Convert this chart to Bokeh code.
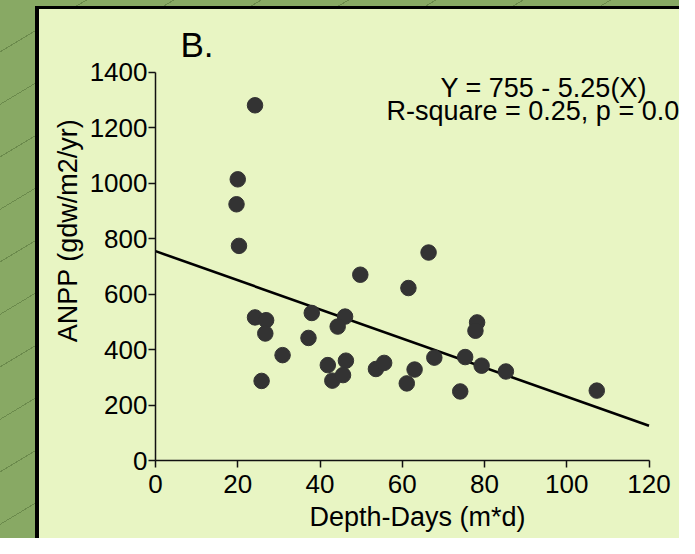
from bokeh.plotting import figure
from bokeh.models import Range1d, Label
from bokeh.embed import file_html
from bokeh.resources import INLINE

# ---- data ----
depth_days = [24.2, 20.0, 19.7, 20.3, 49.8, 61.5, 66.4, 24.2, 26.9, 26.7, 30.9, 25.8,
              38.0, 37.2, 46.1, 44.3, 41.9, 46.3, 43.0, 45.6, 53.6, 55.6, 61.1, 63.0,
              78.2, 77.8, 67.8, 75.3, 79.3, 85.2, 74.1, 107.3]
anpp = [1281, 1014, 924, 774, 670, 622, 750, 516, 506, 458, 380, 287,
        532, 442, 519, 483, 344, 360, 288, 308, 330, 352, 278, 328,
        498, 468, 371, 373, 342, 321, 249, 252]
fit_x = [0, 120]
fit_y = [755, 125]
x_ticks = [0, 20, 40, 60, 80, 100, 120]
y_ticks = [0, 200, 400, 600, 800, 1000, 1200, 1400]

panel_label = "B."
eq_line1 = "Y = 755 - 5.25(X)"
eq_line2 = "R-square = 0.25, p = 0.004"
x_title = "Depth-Days (m*d)"
y_title = "ANPP (gdw/m2/yr)"

PANEL = "#e8f5c3"
GREEN = "#88a964"
HATCH = "#6b8a4c"
FONT = "Liberation Sans"

W, H = 679, 538
LEFT, BOTTOM = 155, 78
XPX = 4.1125      # px per x unit
YPX = 0.27729     # px per y unit
x_end = (W - LEFT) / XPX
y_end = (H - BOTTOM) / YPX

def xd(fx):
    return (fx - LEFT) / XPX

def yd(fy):
    return (H - BOTTOM - fy) / YPX

p = figure(width=W, height=H, output_backend="svg", toolbar_location=None, title=None,
           x_range=Range1d(0, x_end), y_range=Range1d(0, y_end),
           min_border_left=LEFT, min_border_right=0, min_border_top=0,
           min_border_bottom=BOTTOM)
p.background_fill_color = None
p.border_fill_color = None
p.outline_line_color = None
p.grid.visible = False

# green hatched frame with black edge around the light panel (page background)
p.styles = {
    "background-image": (
        "linear-gradient(#000,#000), linear-gradient(#000,#000), "
        f"linear-gradient({PANEL},{PANEL}), "
        f"repeating-linear-gradient(149deg, {GREEN} 0px, {GREEN} 44px, {HATCH} 44px, {HATCH} 45px)"
    ),
    "background-position": "35px 6px, 35px 6px, 39px 9px, 0px 0px",
    "background-size": "4px 100%, 100% 3px, 100% 100%, 100% 100%",
    "background-repeat": "no-repeat",
}

for ax in (p.xaxis[0], p.yaxis[0]):
    ax.axis_line_color = "#111111"
    ax.axis_line_width = 1.5
    ax.major_tick_line_color = "#111111"
    ax.major_tick_line_width = 1.5
    ax.major_tick_in = 0
    ax.major_tick_out = 7
    ax.minor_tick_line_color = None
    ax.major_label_text_font = FONT
    ax.major_label_text_font_size = "26px"
    ax.major_label_text_color = "black"
    ax.axis_label_text_font = FONT
    ax.axis_label_text_font_size = "27px"
    ax.axis_label_text_font_style = "normal"
    ax.axis_label_text_color = "black"

p.xaxis.bounds = (0, 120)
p.yaxis.bounds = (0, 1400)
p.xaxis.ticker = x_ticks
p.yaxis.ticker = y_ticks
p.xaxis.axis_label = x_title
p.yaxis.axis_label = y_title
p.xaxis.major_label_standoff = 7
p.yaxis.major_label_standoff = 1
p.xaxis.axis_label_standoff = 6
p.yaxis.axis_label_standoff = 4

p.line(fit_x, fit_y, line_width=2.6, line_color="black")
p.scatter(depth_days, anpp, size=15.5, fill_color="#333333", line_color="#333333")

p.add_layout(Label(x=xd(180), y=yd(44), text=panel_label, text_font=FONT,
                   text_font_size="35px", text_color="black", text_baseline="alphabetic"))
p.add_layout(Label(x=xd(440), y=yd(87), text=eq_line1, text_font=FONT,
                   text_font_size="27px", text_color="black", text_baseline="alphabetic"))
p.add_layout(Label(x=xd(386), y=yd(110), text=eq_line2, text_font=FONT,
                   text_font_size="27px", text_color="black", text_baseline="alphabetic"))

open("out.html", "w").write(file_html(p, INLINE))
